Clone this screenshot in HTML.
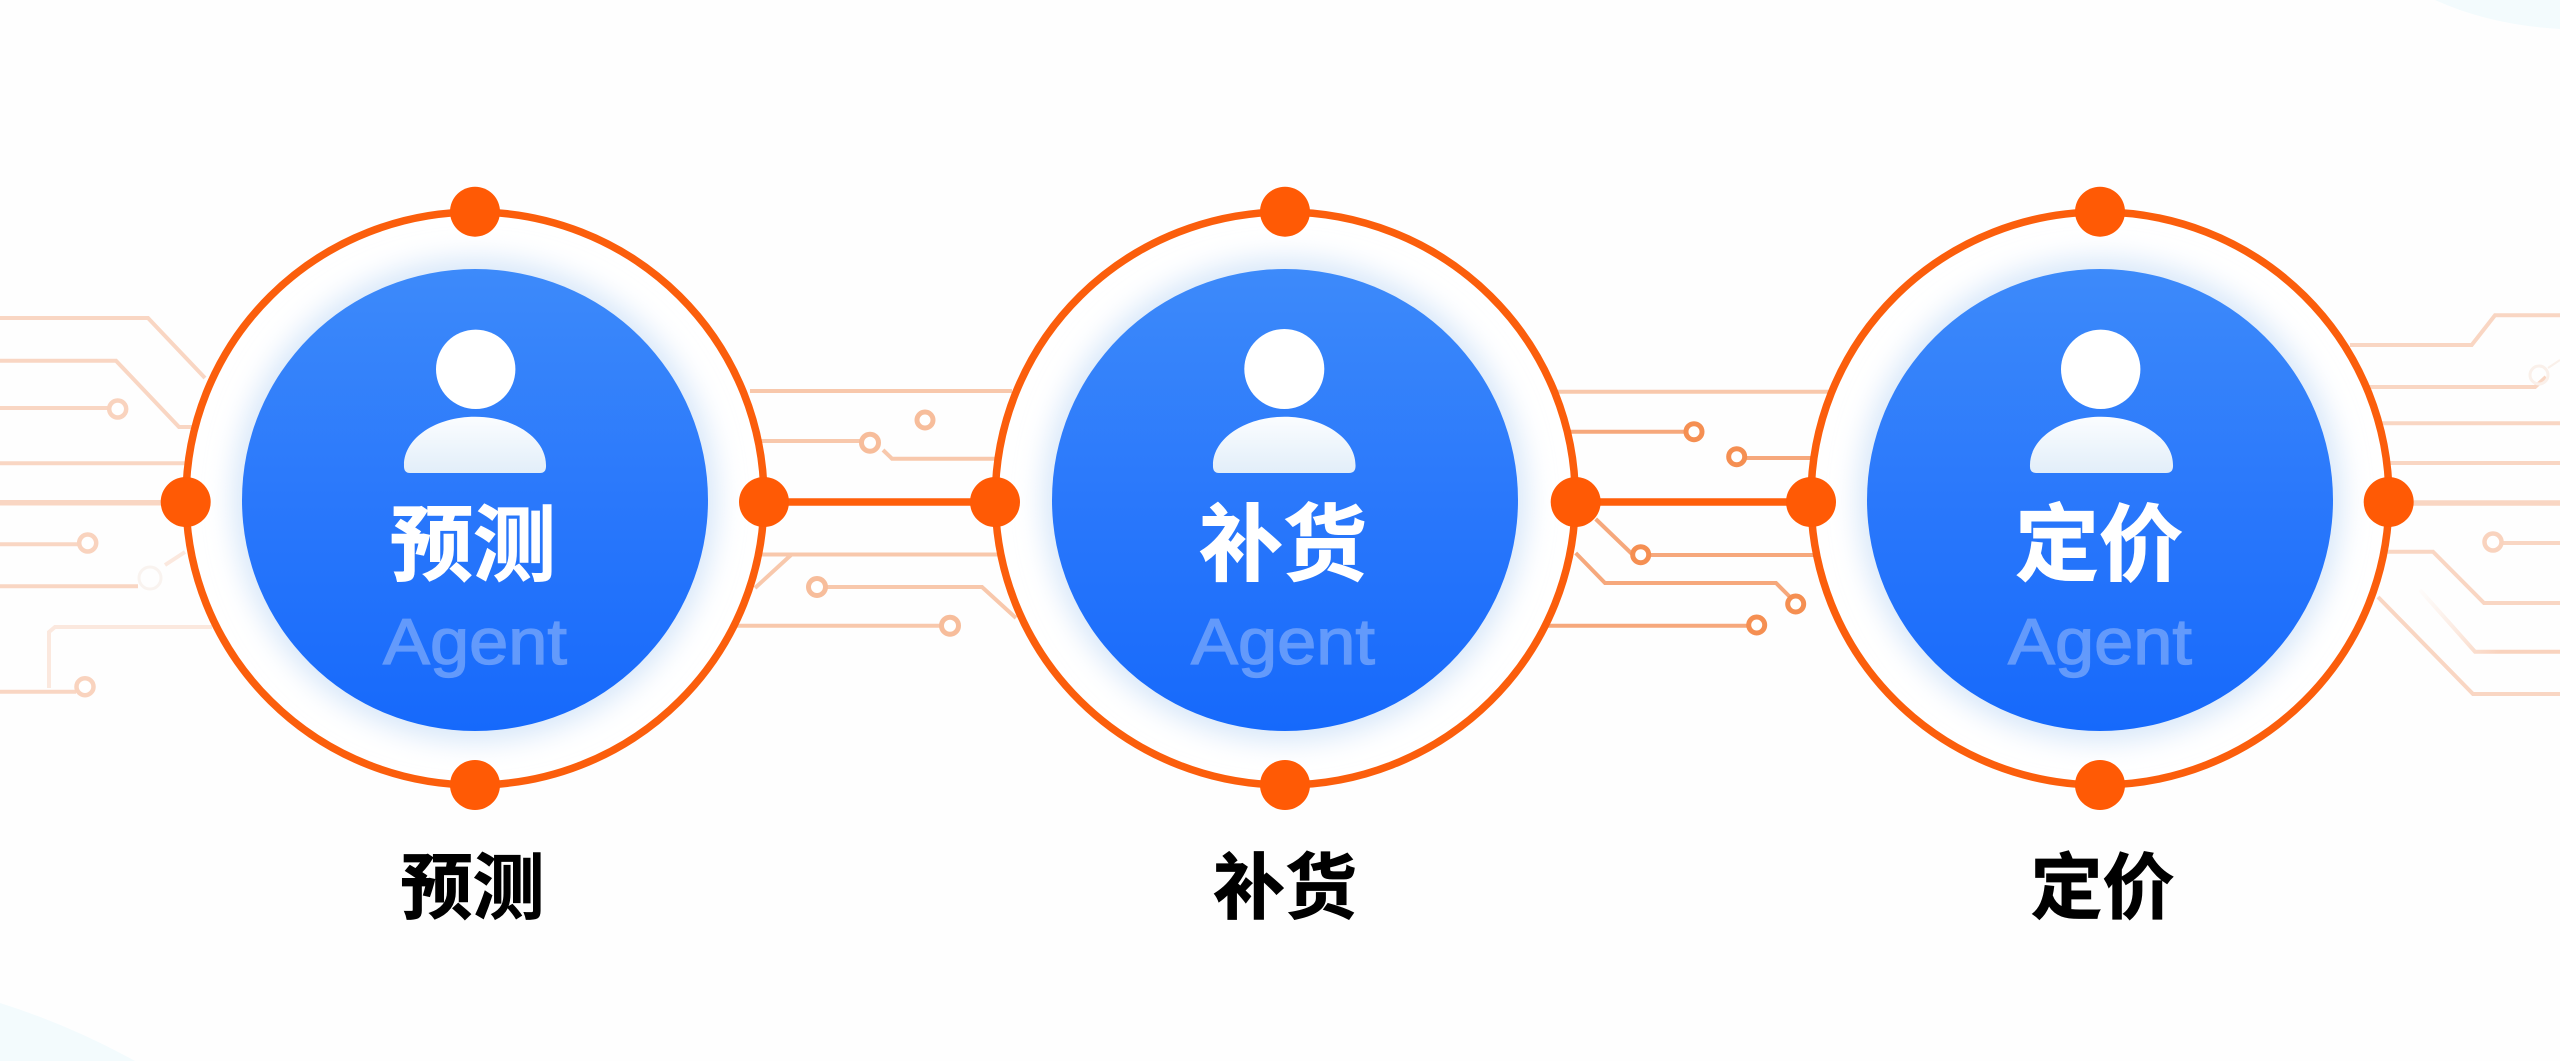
<!DOCTYPE html>
<html lang="zh">
<head>
<meta charset="utf-8">
<title>预测 补货 定价 Agent</title>
<style>
html,body{margin:0;padding:0;background:#fefefe;width:2560px;height:1061px;overflow:hidden}
svg{display:block}
.cn{font-family:"Liberation Sans","Noto Sans CJK SC",sans-serif;font-weight:700;text-anchor:middle}
.w1{fill:#fff;stroke:#fff;stroke-width:1}
.k1{fill:#000;stroke:#000;stroke-width:.8}
.ag{font-family:"Liberation Sans",sans-serif;font-size:65px;text-anchor:middle;fill:#639afb;stroke:#639afb;stroke-width:1.3}
.w{fill:none;stroke-linejoin:miter}
.a{stroke:#f9d6c3;stroke-width:4}
.b{stroke:#f8c8ac;stroke-width:4}
.c{stroke:#f6a87c;stroke-width:4}
.p{stroke:#fbe8de;stroke-width:4}
.ra{fill:#fff;stroke:#f9d3be;stroke-width:4.5}
.rb{fill:#fff;stroke:#f7bd9b;stroke-width:5}
.rc{fill:#fff;stroke:#f58f52;stroke-width:5}
.m{stroke:#ff5f0a;stroke-width:7.5;fill:none}
.n{fill:#ff5a05}
.ring{fill:#fff;stroke:#fb5e0c;stroke-width:7.5}
</style>
</head>
<body>
<svg width="2560" height="1061" viewBox="0 0 2560 1061" xmlns="http://www.w3.org/2000/svg">
<defs>
<linearGradient id="bl" x1="0" y1="0" x2="0" y2="1">
<stop offset="0" stop-color="#3d8afa"/>
<stop offset=".5" stop-color="#2a78fb"/>
<stop offset="1" stop-color="#1669fb"/>
</linearGradient>
<linearGradient id="bd" x1="0" y1="0" x2="0" y2="1">
<stop offset="0" stop-color="#fbfdff"/>
<stop offset="1" stop-color="#e2eef9"/>
</linearGradient>
<linearGradient id="fade" gradientUnits="userSpaceOnUse" x1="2420" y1="590" x2="2500" y2="651">
<stop offset="0" stop-color="#fbe6da" stop-opacity=".1"/>
<stop offset="1" stop-color="#f9d3be"/>
</linearGradient>
<filter id="glow" x="-20%" y="-20%" width="140%" height="140%"><feGaussianBlur stdDeviation="14"/></filter>
</defs>

<rect width="2560" height="1061" fill="#fefefe"/>
<path d="M2435,0 Q2490,25 2560,29 V0 Z" fill="#f3fbfd"/>
<path d="M0,1003 Q70,1025 135,1061 H0 Z" fill="#f3fbfd"/>

<!-- left wires -->
<g class="w a">
<path d="M0,318 H148 L205,378"/>
<path d="M0,360.7 H116 L179,427 H195"/>
<path d="M0,408 H108"/>
<path d="M0,463.3 H190"/>
<path d="M0,502.7 H170" stroke-width="5.5"/>
<path d="M0,544.3 H78"/>
<path d="M0,586.3 H138"/>
<path d="M0,691.7 H76"/>
</g>
<g class="w p">
<path d="M165,565 L185,552"/>
<path d="M212,627 H55 L49,632 V688"/>
</g>
<circle cx="150" cy="578" r="11" fill="none" stroke="#f9f3ef" stroke-width="3"/>
<circle class="ra" cx="117.7" cy="409" r="8.5"/>
<circle class="ra" cx="87.7" cy="543" r="8.5"/>
<circle class="ra" cx="85" cy="686.7" r="8.5"/>

<!-- wires 1-2 -->
<g class="w b">
<path d="M750,391 H1012"/>
<path d="M760,441 H862"/>
<path d="M883,450 L892,458.7 H995"/>
<path d="M760,554.5 H998"/>
<path d="M791,555 L755,588"/>
<path d="M825,587 H982 L1016,618"/>
<path d="M735,625.7 H942"/>
</g>
<circle class="rb" cx="925" cy="420" r="8"/>
<circle class="rb" cx="870" cy="442.7" r="8.5"/>
<circle class="rb" cx="817" cy="587" r="8.5"/>
<circle class="rb" cx="950" cy="625.7" r="8.5"/>
<path class="m" d="M770,502 H990"/>

<!-- wires 2-3 -->
<g class="w">
<path class="b" d="M1556,391.7 H1830"/>
<path class="c" d="M1568,431.7 H1686"/>
<path class="c" d="M1745,458 H1812"/>
<path class="c" d="M1595.7,519 L1632,554"/>
<path class="c" d="M1648,555 H1814"/>
<path class="c" d="M1575.7,553 L1605,583 H1776 L1790,597"/>
<path class="c" d="M1545,625.7 H1750"/>
</g>
<circle class="rc" cx="1694" cy="431.7" r="8"/>
<circle class="rc" cx="1736.7" cy="456.7" r="8"/>
<circle class="rc" cx="1640.7" cy="554.7" r="8"/>
<circle class="rc" cx="1795.7" cy="604" r="8"/>
<circle class="rc" cx="1756.7" cy="625" r="8"/>
<path class="m" d="M1580,502 H1805"/>

<!-- right wires -->
<g class="w a">
<path d="M2350,345 H2471.7 L2495,315.3 H2560"/>
<path d="M2368,387 H2535 L2546,377"/>
<path d="M2380,423.3 H2560"/>
<path d="M2390,463 H2560"/>
<path d="M2405,503 H2560" stroke-width="5.5"/>
<path d="M2503,543 H2560"/>
<path d="M2385,551.7 H2433 L2484,603 H2560"/>
<path d="M2378,597 L2473,694 H2560"/>
<path d="M2420,590 L2475,651.7 H2560" stroke="url(#fade)"/>
</g>
<circle cx="2539" cy="375" r="9" fill="none" stroke="#faf0ea" stroke-width="3"/>
<path d="M2548,368 L2560,360" stroke="#faf0ea" stroke-width="2" fill="none"/>
<circle class="ra" cx="2493" cy="542" r="8.5"/>

<!-- agent 1 -->
<ellipse class="ring" cx="475" cy="498.5" rx="289" ry="286.5"/>
<circle cx="475" cy="500" r="241" fill="#d6e6f9" filter="url(#glow)"/>
<ellipse cx="475" cy="500" rx="233" ry="231" fill="url(#bl)"/>
<circle cx="475.7" cy="369.3" r="39.7" fill="#fff"/>
<path d="M410,473 H540 Q546.5,473 546,465 C546,438 514,416.7 475,416.7 C436,416.7 404,438 404,465 Q403.5,473 410,473 Z" fill="url(#bd)"/>
<text class="cn w1" x="473" y="574" font-size="83">预测</text>
<text class="ag" x="475" y="664" textLength="184" lengthAdjust="spacingAndGlyphs">Agent</text>
<circle class="n" cx="475" cy="211.7" r="25"/>
<circle class="n" cx="475" cy="785" r="25"/>
<circle class="n" cx="185.7" cy="502" r="25"/>
<circle class="n" cx="764" cy="502" r="25"/>

<!-- agent 2 -->
<ellipse class="ring" cx="1285.3" cy="498.5" rx="290" ry="286.5"/>
<circle cx="1285" cy="500" r="241" fill="#d6e6f9" filter="url(#glow)"/>
<ellipse cx="1285" cy="500" rx="233" ry="231" fill="url(#bl)"/>
<circle cx="1284.3" cy="369" r="40" fill="#fff"/>
<path d="M1219,473 H1349 Q1356,473 1355.5,465 C1355.5,438 1323,416.7 1284.5,416.7 C1246,416.7 1213,438 1213,465 Q1212.5,473 1219,473 Z" fill="url(#bd)"/>
<text class="cn w1" x="1283" y="574" font-size="84">补货</text>
<text class="ag" x="1283" y="664" textLength="184" lengthAdjust="spacingAndGlyphs">Agent</text>
<circle class="n" cx="1285" cy="211.7" r="25"/>
<circle class="n" cx="1285" cy="785" r="25"/>
<circle class="n" cx="995" cy="502" r="25"/>
<circle class="n" cx="1575.7" cy="502" r="25"/>

<!-- agent 3 -->
<ellipse class="ring" cx="2100" cy="498.5" rx="289" ry="286.5"/>
<circle cx="2100" cy="500" r="241" fill="#d6e6f9" filter="url(#glow)"/>
<ellipse cx="2100" cy="500" rx="233" ry="231" fill="url(#bl)"/>
<circle cx="2100.7" cy="369.3" r="39.7" fill="#fff"/>
<path d="M2036,473 H2166 Q2173.5,473 2173,465 C2173,438 2140,416.7 2101,416.7 C2062,416.7 2030,438 2030,465 Q2029.5,473 2036,473 Z" fill="url(#bd)"/>
<text class="cn w1" x="2099" y="574" font-size="84">定价</text>
<text class="ag" x="2100" y="664" textLength="184" lengthAdjust="spacingAndGlyphs">Agent</text>
<circle class="n" cx="2100" cy="211.7" r="25"/>
<circle class="n" cx="2100" cy="785" r="25"/>
<circle class="n" cx="1811" cy="502" r="25"/>
<circle class="n" cx="2388.7" cy="502" r="25"/>

<!-- bottom labels -->
<text class="cn k1" x="472.5" y="913" font-size="72">预测</text>
<text class="cn k1" x="1285" y="913" font-size="72">补货</text>
<text class="cn k1" x="2102.5" y="913" font-size="72">定价</text>
</svg>
</body>
</html>
